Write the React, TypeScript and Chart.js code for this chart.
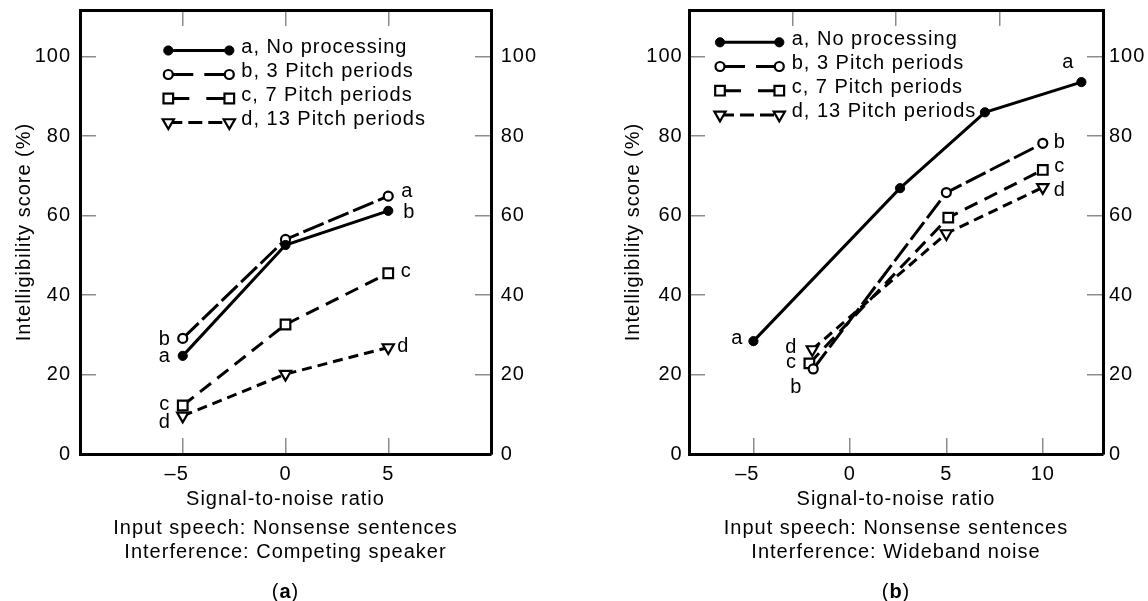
import React, { useEffect, useRef } from "react";
import { Chart, registerables } from "chart.js";

Chart.register(...registerables);

const FONT_FAMILY = "'Liberation Sans', Arial, Helvetica, sans-serif";
const INK = "#000000";

// ---------------- data ----------------
const seriesLabels = ["a, No processing", "b, 3 Pitch periods", "c, 7 Pitch periods", "d, 13 Pitch periods"];
const scoreTicks = [0, 20, 40, 60, 80, 100];
const snrTicksA = [-5, 0, 5];
const snrTicksB = [-5, 0, 5, 10];
const frameTopTicks = [-5, 0, 5];

// panel (a): competing speaker
const snrA = [-5, 0, 5];
const scoreA_a = [24.7, 52.6, 61.2];
const scoreA_b = [29.1, 54.0, 64.9];
const scoreA_c = [12.2, 32.6, 45.5];
const scoreA_d = [9.6, 20.1, 26.8];

// panel (b): wideband noise
const snrB_a = [-5, 2.6, 7, 12];
const scoreB_a = [28.4, 66.9, 86.0, 93.6];
const snrB_b = [-1.9, 5, 10];
const scoreB_b = [21.4, 65.8, 78.2];
const snrB_c = [-2.1, 5.1, 10];
const scoreB_c = [22.8, 59.5, 71.5];
const snrB_d = [-1.95, 5, 10];
const scoreB_d = [26.3, 55.5, 67.1];

const xTitle = "Signal-to-noise ratio";
const yTitle = "Intelligibility score (%)";
const captionsA = ["Input speech: Nonsense sentences", "Interference: Competing speaker"];
const captionsB = ["Input speech: Nonsense sentences", "Interference: Wideband noise"];

// ---------------- styles ----------------
const seriesStyle = [
  { pointStyle: "circle", radius: 4.6, bw: 1, fill: "#000", dash: [], legendDash: [], rotation: 0 },
  { pointStyle: "circle", radius: 4.5, bw: 2.2, fill: "#fff", dash: [22, 5], legendDash: [25, 11], rotation: 0 },
  { pointStyle: "rect", radius: 6.8, bw: 2.2, fill: "#fff", dash: [14, 8], legendDash: [21, 17], rotation: 0 },
  { pointStyle: "triangle", radius: 6.5, bw: 2.2, fill: "#fff", dash: [10, 6], legendDash: [14, 6], rotation: 180 },
];

const CANVAS_W = 574;
const CANVAS_H = 601;
const PLOT_TOP = 10;
const PLOT_BOTTOM = 454;
const Y_MAX = 111.75;

function fmtSnr(v: number): string {
  return v < 0 ? "\u2013" + Math.abs(v) + "\u2007" : String(v);
}

function drawMarker(ctx: CanvasRenderingContext2D, st: any, x: number, y: number) {
  ctx.save();
  ctx.setLineDash([]);
  ctx.fillStyle = st.fill;
  ctx.strokeStyle = "#000";
  ctx.lineWidth = st.bw;
  ctx.beginPath();
  const r = st.radius;
  if (st.pointStyle === "circle") {
    ctx.arc(x, y, r, 0, Math.PI * 2);
  } else if (st.pointStyle === "rect") {
    const s = r * Math.SQRT1_2;
    ctx.rect(x - s, y - s, 2 * s, 2 * s);
  } else {
    let rad = (st.rotation * Math.PI) / 180;
    ctx.moveTo(x + Math.sin(rad) * r, y - Math.cos(rad) * r);
    rad += (2 * Math.PI) / 3;
    ctx.lineTo(x + Math.sin(rad) * r, y - Math.cos(rad) * r);
    rad += (2 * Math.PI) / 3;
    ctx.lineTo(x + Math.sin(rad) * r, y - Math.cos(rad) * r);
    ctx.closePath();
  }
  ctx.fill();
  ctx.stroke();
  ctx.restore();
}

const extrasPlugin = {
  id: "figureExtras",
  beforeDraw(chart: any) {
    (chart.ctx as any).letterSpacing = "1px";
  },
  afterDatasetsDraw(chart: any, _args: any, opts: any) {
    const ctx = chart.ctx as CanvasRenderingContext2D;
    ctx.save();
    (ctx as any).letterSpacing = "1px";
    ctx.fillStyle = INK;
    ctx.font = `20px ${FONT_FAMILY}`;

    // point tags
    ctx.textAlign = "center";
    ctx.textBaseline = "middle";
    for (const t of opts.tags) {
      const el = chart.getDatasetMeta(t.ds).data[t.i];
      if (!el) continue;
      const adj = /[bd]/.test(t.text) ? 1 : -1;
      ctx.fillText(t.text, el.x + t.dx, el.y + t.dy + adj);
    }

    // legend
    const lg = opts.legend;
    chart.data.datasets.forEach((ds: any, k: number) => {
      const st = seriesStyle[k];
      const y = lg.y + k * lg.gap;
      const x0 = lg.x;
      const x1 = lg.x + lg.len;
      ctx.save();
      ctx.strokeStyle = "#000";
      ctx.lineWidth = 3;
      ctx.setLineDash(st.legendDash);
      ctx.beginPath();
      ctx.moveTo(x0, y);
      ctx.lineTo(x1, y);
      ctx.stroke();
      ctx.restore();
      drawMarker(ctx, st, x0, y);
      drawMarker(ctx, st, x1, y);
      ctx.fillStyle = INK;
      ctx.textAlign = "left";
      ctx.textBaseline = "middle";
      ctx.fillText(ds.label, x1 + lg.textGap, y - 3);
    });

    // captions
    const cx = (chart.chartArea.left + chart.chartArea.right) / 2;
    ctx.textAlign = "center";
    ctx.textBaseline = "alphabetic";
    opts.captions.forEach((c: string, i: number) => ctx.fillText(c, cx, opts.captionY[i]));

    // panel letter "(a)" with bold letter
    const regular = `20px ${FONT_FAMILY}`;
    const bold = `bold 20px ${FONT_FAMILY}`;
    ctx.font = regular;
    const wOpen = ctx.measureText("(").width;
    const wClose = ctx.measureText(")").width;
    ctx.font = bold;
    const wLetter = ctx.measureText(opts.letter).width;
    const total = wOpen + wLetter + wClose;
    let x = cx - total / 2;
    ctx.textAlign = "left";
    ctx.font = regular;
    ctx.fillText("(", x, opts.letterY);
    x += wOpen;
    ctx.font = bold;
    ctx.fillText(opts.letter, x, opts.letterY);
    x += wLetter;
    ctx.font = regular;
    ctx.fillText(")", x, opts.letterY);
    ctx.restore();
  },
};

const gridOpts = {
  display: true,
  drawOnChartArea: false,
  drawTicks: true,
  tickLength: -16,
  tickColor: "#8c8c8c",
  tickWidth: 1.5,
  color: "#8c8c8c",
  lineWidth: 1.5,
};
const borderOpts = { display: true, color: "#000", width: 3 };

function clearPad(s: any) {
  s.paddingTop = 0;
  s.paddingBottom = 0;
  s.paddingLeft = 0;
  s.paddingRight = 0;
}

function buildConfig(p: any) {
  const datasets = seriesLabels.map((label, k) => ({
    label,
    data: p.xs[k].map((x: number, i: number) => ({ x, y: p.ys[k][i] })),
    borderColor: "#000",
    borderWidth: 3,
    borderDash: seriesStyle[k].dash,
    pointStyle: seriesStyle[k].pointStyle,
    pointRadius: seriesStyle[k].radius,
    pointBorderWidth: seriesStyle[k].bw,
    pointBackgroundColor: seriesStyle[k].fill,
    pointBorderColor: "#000",
    pointRotation: seriesStyle[k].rotation,
    fill: false,
    tension: 0,
    xAxisID: "x",
    yAxisID: "y",
  }));

  const tickFont = { size: 20, family: FONT_FAMILY };

  return {
    type: "line",
    data: { datasets },
    plugins: [extrasPlugin],
    options: {
      animation: false,
      responsive: false,
      events: [],
      layout: { padding: { top: PLOT_TOP, left: 0, right: 0, bottom: 0 } },
      plugins: {
        legend: { display: false },
        tooltip: { enabled: false },
        figureExtras: {
          tags: p.tags,
          legend: p.legend,
          captions: p.captions,
          captionY: [534, 557.5],
          letter: p.letter,
          letterY: 598,
        },
      },
      scales: {
        x: {
          type: "linear",
          position: "bottom",
          min: p.xMin,
          max: p.xMax,
          afterBuildTicks: (s: any) => {
            s.ticks = p.xTicks.map((v: number) => ({ value: v }));
          },
          afterFit: (s: any) => {
            s.height = CANVAS_H - PLOT_BOTTOM;
            clearPad(s);
          },
          ticks: {
            autoSkip: false,
            maxRotation: 0,
            padding: 24.7,
            color: INK,
            font: tickFont,
            callback: (v: any) => fmtSnr(Number(v)),
          },
          grid: gridOpts,
          border: borderOpts,
          title: {
            display: true,
            text: xTitle,
            color: INK,
            font: tickFont,
            padding: { top: 0, bottom: 89.2 },
          },
        },
        x2: {
          type: "linear",
          axis: "x",
          position: "top",
          min: -10,
          max: 10,
          afterBuildTicks: (s: any) => {
            s.ticks = frameTopTicks.map((v: number) => ({ value: v }));
          },
          afterFit: (s: any) => {
            s.height = 0;
            clearPad(s);
          },
          ticks: { display: false },
          grid: gridOpts,
          border: borderOpts,
        },
        y: {
          type: "linear",
          position: "left",
          min: 0,
          max: Y_MAX,
          afterBuildTicks: (s: any) => {
            s.ticks = scoreTicks.map((v: number) => ({ value: v }));
          },
          afterFit: (s: any) => {
            s.width = p.leftW;
            clearPad(s);
          },
          ticks: { padding: p.yLeftPad, color: INK, font: tickFont, callback: (v: any) => String(v) },
          grid: gridOpts,
          border: borderOpts,
          title: {
            display: true,
            text: yTitle,
            color: INK,
            font: tickFont,
            padding: { top: p.yTitlePad, bottom: 0 },
          },
        },
        y2: {
          type: "linear",
          axis: "y",
          position: "right",
          min: 0,
          max: Y_MAX,
          afterBuildTicks: (s: any) => {
            s.ticks = scoreTicks.map((v: number) => ({ value: v }));
          },
          afterFit: (s: any) => {
            s.width = p.rightW;
            clearPad(s);
          },
          ticks: { padding: p.yRightPad, color: INK, font: tickFont, callback: (v: any) => String(v) },
          grid: gridOpts,
          border: borderOpts,
        },
      },
    },
  };
}

const panelA = {
  xs: [snrA, snrA, snrA, snrA],
  ys: [scoreA_a, scoreA_b, scoreA_c, scoreA_d],
  xMin: -10,
  xMax: 10,
  xTicks: snrTicksA,
  captions: captionsA,
  letter: "a",
  leftW: 80,
  rightW: 83,
  yTitlePad: 12,
  yLeftPad: 25,
  yRightPad: 25.7,
  legend: { x: 168.3, y: 50.5, gap: 24, len: 61, textGap: 12 },
  tags: [
    { text: "b", ds: 1, i: 0, dx: -18, dy: 0 },
    { text: "a", ds: 0, i: 0, dx: -18, dy: 2 },
    { text: "c", ds: 2, i: 0, dx: -18, dy: 0 },
    { text: "d", ds: 3, i: 0, dx: -18, dy: 6 },
    { text: "a", ds: 1, i: 2, dx: 19, dy: -4 },
    { text: "b", ds: 0, i: 2, dx: 21, dy: 1 },
    { text: "c", ds: 2, i: 2, dx: 18, dy: -1 },
    { text: "d", ds: 3, i: 2, dx: 15, dy: -2 },
  ],
};

const panelB = {
  xs: [snrB_a, snrB_b, snrB_c, snrB_d],
  ys: [scoreB_a, scoreB_b, scoreB_c, scoreB_d],
  xMin: -8.34,
  xMax: 13.12,
  xTicks: snrTicksB,
  captions: captionsB,
  letter: "b",
  leftW: 115,
  rightW: 45,
  yTitlePad: 47.5,
  yLeftPad: 22.3,
  yRightPad: 22,
  legend: { x: 146, y: 42.3, gap: 24.2, len: 59.3, textGap: 12.4 },
  tags: [
    { text: "a", ds: 0, i: 0, dx: -16, dy: -1.5 },
    { text: "a", ds: 0, i: 3, dx: -13, dy: -19 },
    { text: "b", ds: 1, i: 2, dx: 17, dy: -2 },
    { text: "c", ds: 2, i: 2, dx: 17, dy: -2.5 },
    { text: "d", ds: 3, i: 2, dx: 17, dy: 2 },
    { text: "d", ds: 3, i: 0, dx: -21, dy: -3 },
    { text: "c", ds: 2, i: 0, dx: -18, dy: 0 },
    { text: "b", ds: 1, i: 0, dx: -17, dy: 18 },
  ],
};

function Panel({ cfg }: { cfg: any }) {
  const ref = useRef<HTMLCanvasElement>(null);
  useEffect(() => {
    if (!ref.current) return;
    Chart.defaults.font.family = FONT_FAMILY;
    Chart.defaults.font.size = 20;
    Chart.defaults.color = INK;
    const chart = new Chart(ref.current, buildConfig(cfg) as any);
    return () => chart.destroy();
  }, [cfg]);
  return (
    <canvas
      ref={ref}
      width={CANVAS_W}
      height={CANVAS_H}
      style={{ display: "block", width: CANVAS_W, height: CANVAS_H }}
    />
  );
}

export default function App() {
  return (
    <div
      style={{
        position: "fixed",
        left: 0,
        top: 0,
        width: 1148,
        height: 601,
        display: "flex",
        background: "#fff",
      }}
    >
      <Panel cfg={panelA} />
      <Panel cfg={panelB} />
    </div>
  );
}
